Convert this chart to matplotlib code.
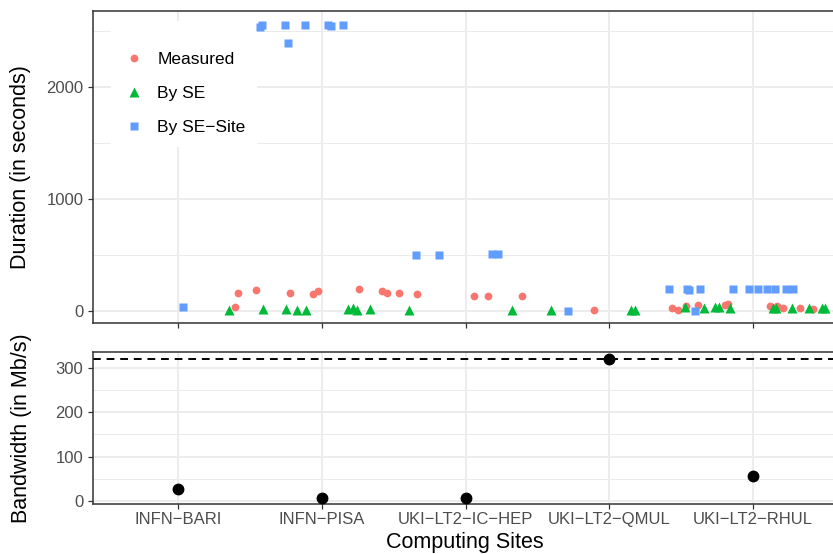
import matplotlib
matplotlib.use("Agg")
import matplotlib.pyplot as plt
from matplotlib.ticker import FixedLocator

plt.rcParams["font.family"] = ["Liberation Sans", "DejaVu Sans"]

# ---------------- data ----------------
sites = ["INFN\u2212BARI", "INFN\u2212PISA", "UKI\u2212LT2\u2212IC\u2212HEP",
         "UKI\u2212LT2\u2212QMUL", "UKI\u2212LT2\u2212RHUL"]
site_pos = [1, 2, 3, 4, 5]

# Duration panel (jittered x position in site units, duration in seconds)
measured_x = [1.399, 1.415, 1.545, 1.777, 1.937, 1.976, 2.261, 2.421, 2.452,
              2.540, 2.665, 3.061, 3.159, 3.395, 3.892, 4.439, 4.480, 4.532,
              4.615, 4.805, 4.828, 5.118, 5.165, 5.211, 5.327, 5.420]
measured_y = [33, 164, 185, 158, 155, 176, 194, 176, 164,
              158, 149, 131, 131, 131, 5, 30, 6, 48,
              54, 54, 66, 42, 42, 30, 30, 18]

byse_x = [1.357, 1.591, 1.751, 1.830, 1.890, 2.185, 2.220, 2.247, 2.336,
          2.609, 3.323, 3.593, 4.149, 4.179, 4.527, 4.661, 4.736, 4.766,
          4.840, 5.141, 5.160, 5.269, 5.392, 5.478, 5.501]
byse_y = [10, 22, 22, 10, 10, 20, 28, 10, 22,
          10, 12, 12, 12, 12, 32, 28, 32, 32,
          30, 30, 30, 28, 28, 30, 30]

bysesite_x = [1.033, 1.574, 1.582, 1.744, 1.763, 1.883, 2.046, 2.062, 2.150,
              2.656, 2.814, 3.184, 3.223, 3.713, 4.416, 4.541, 4.555, 4.597,
              4.632, 4.861, 4.972, 5.033, 5.097, 5.153, 5.232, 5.278]
bysesite_y = [36, 2540, 2551, 2551, 2393, 2551, 2551, 2542, 2551,
              497, 497, 506, 506, 0, 196, 196, 185, 0,
              196, 196, 196, 196, 196, 196, 196, 196]

# Bandwidth panel
bandwidth = [28, 6, 7, 320, 57]
bandwidth_ref = 321

series_labels = ["Measured", "By SE", "By SE\u2212Site"]
series_colors = ["#F8766D", "#00BA38", "#619CFF"]

# ---------------- figure ----------------
W, H = 833, 554
fig = plt.figure(figsize=(W / 100, H / 100), dpi=100)

left_px, right_px = 93, 836
ax1 = fig.add_axes([left_px / W, 1 - 323 / H, (right_px - left_px) / W, (323 - 11) / H])
ax2 = fig.add_axes([left_px / W, 1 - 504.3 / H, (right_px - left_px) / W, (504.3 - 351.7) / H])

grid_col = "#EBEBEB"
border_col = "#333333"
tick_col = "#4D4D4D"

for ax in (ax1, ax2):
    ax.set_xlim(0.409, 5.577)
    ax.xaxis.set_major_locator(FixedLocator(site_pos))
    ax.grid(True, which="major", color=grid_col, lw=1.3, zorder=0)
    ax.grid(True, which="minor", axis="y", color=grid_col, lw=0.7, zorder=0)
    ax.set_axisbelow(True)
    for s in ax.spines.values():
        s.set_color(border_col)
        s.set_linewidth(1.1)
    ax.tick_params(which="major", length=3.6, width=0.9, color=border_col,
                   labelcolor=tick_col, labelsize=12)
    ax.tick_params(which="minor", length=0)
    ax.tick_params(axis="y", pad=3.3)
    ax.tick_params(axis="x", pad=2.2)

# top panel
ax1.set_ylim(-107, 2679)
ax1.yaxis.set_major_locator(FixedLocator([0, 1000, 2000]))
ax1.yaxis.set_minor_locator(FixedLocator([500, 1500, 2500]))
ax1.set_xticklabels([])

ax1.plot(measured_x, measured_y, "o", color=series_colors[0], ms=5.6, mec="none",
         label=series_labels[0], zorder=3)
ax1.plot(byse_x, byse_y, "^", color=series_colors[1], ms=6.6, mec="none",
         label=series_labels[1], zorder=3)
ax1.plot(bysesite_x, bysesite_y, "s", color=series_colors[2], ms=5.6, mec="none",
         label=series_labels[2], zorder=3)

leg = ax1.legend(loc="upper left",
                 bbox_to_anchor=((110.6 - left_px) / (right_px - left_px),
                                 1 - (21 - 11) / 312),
                 title=" ", title_fontsize=1,
                 frameon=True, fancybox=False, framealpha=1, edgecolor="white",
                 facecolor="white", fontsize=12.5, handlelength=1.5,
                 handletextpad=0.58, labelspacing=1.1, borderpad=0.6,
                 borderaxespad=0)
leg.set_zorder(2)

# bottom panel
ax2.set_ylim(-7.4, 336.6)
ax2.yaxis.set_major_locator(FixedLocator([0, 100, 200, 300]))
ax2.yaxis.set_minor_locator(FixedLocator([50, 150, 250]))
ax2.set_xticklabels(sites)
ax2.axhline(bandwidth_ref, color="black", lw=1.4, ls=(0, (4, 3)), zorder=2)
ax2.plot(site_pos, bandwidth, "o", color="black", ms=7.5, zorder=3)

# axis titles
fig.text(20.5 / W, 1 - 167 / H, "Duration (in seconds)", rotation=90,
         ha="center", va="center", fontsize=15.5, color="black")
fig.text(21.5 / W, 1 - 428 / H, "Bandwidth (in Mb/s)", rotation=90,
         ha="center", va="center", fontsize=15.5, color="black")
fig.text((left_px + right_px) / 2 / W, 1 - 548 / H, "Computing Sites",
         ha="center", va="baseline", fontsize=15.5, color="black")

fig.savefig("out.png", dpi=100)
